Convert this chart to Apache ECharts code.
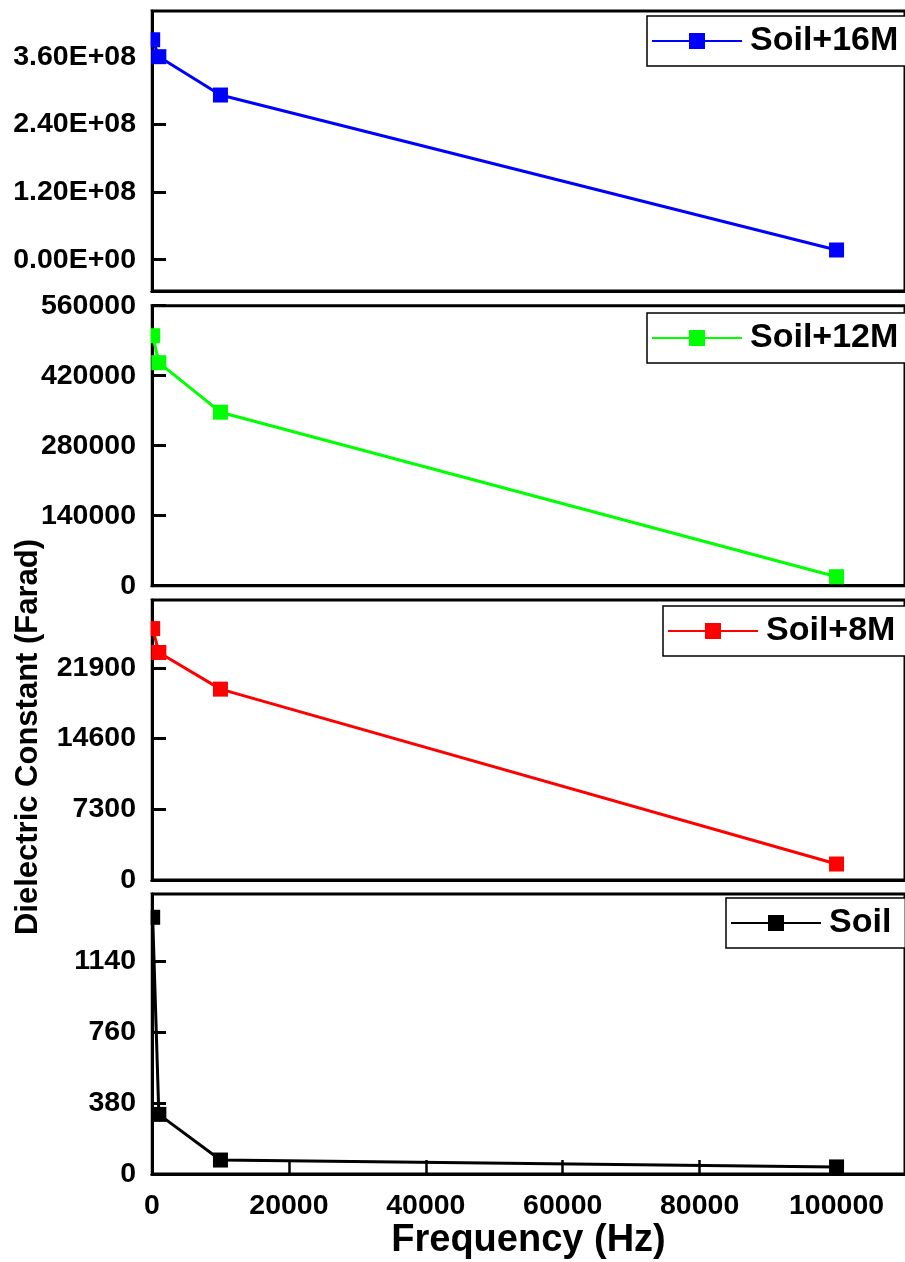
<!DOCTYPE html>
<html>
<head>
<meta charset="utf-8">
<script src="https://cdn.jsdelivr.net/npm/echarts@6/dist/echarts.min.js"></script>
<style>
  html, body { margin: 0; padding: 0; background: #fff; }
  #chart { width: 905px; height: 1262px; }
</style>
</head>
<body>
<div id="chart"></div>
<script>
// Measured frequencies (Hz) and dielectric constant for each soil mix
const frequencies = [100, 1000, 10000, 100000];
const seriesNames = ['Soil+16M', 'Soil+12M', 'Soil+8M', 'Soil'];
const soil16M = [3.90e8, 3.60e8, 2.92e8, 1.72e7];
const soil12M = [500000, 446000, 347000, 18000];
const soil8M = [25950, 23480, 19700, 1650];
const soilOnly = [1378, 320, 75, 38];

// Tick labels
const xTicks = [0, 20000, 40000, 60000, 80000, 100000];
const yTicks16M = [0, 1.2e8, 2.4e8, 3.6e8];
const yTicks12M = [0, 140000, 280000, 420000, 560000];
const yTicks8M = [0, 7300, 14600, 21900];
const yTicksSoil = [0, 380, 760, 1140];

const seriesValues = [soil16M, soil12M, soil8M, soilOnly];
const seriesColors = ['#0000ff', '#00ff00', '#ff0000', '#000000'];
const yTickSets = [yTicks16M, yTicks12M, yTicks8M, yTicksSoil];
const yRanges = [[-0.555e8, 4.41e8], [0, 560000], [0, 28900], [0, 1503]];

// Panel geometry
const FONT = 'Liberation Sans';
const gridLeft = 152;
const gridWidth = 762.3;
const gridHeight = 280;
const gridTops = [11, 305.7, 600, 894];
const legendPos = [[647, 16], [647, 313], [663, 606], [726, 898]];

function sci(v) {
  if (v === 0) return '0.00E+00';
  const e = Math.floor(Math.log10(Math.abs(v)) + 1e-9);
  const m = v / Math.pow(10, e);
  return m.toFixed(2) + 'E' + (e < 0 ? '-' : '+') + String(Math.abs(e)).padStart(2, '0');
}
const plain = (v) => String(v);

const grids = [], xAxes = [], yAxes = [], series = [], legends = [], graphics = [];

for (let i = 0; i < 4; i++) {
  const isBottom = i === 3;
  grids.push({
    left: gridLeft, top: gridTops[i], width: gridWidth, height: gridHeight,
    show: true, borderColor: '#000', borderWidth: 3, backgroundColor: 'transparent'
  });
  xAxes.push({
    gridIndex: i, type: 'value', min: 0, max: 110000,
    axisLine: { show: true, onZero: false, lineStyle: { color: '#000', width: 3 } },
    axisTick: {
      show: isBottom, inside: true, length: 14, customValues: xTicks,
      lineStyle: { color: '#000', width: 2.5 }
    },
    axisLabel: {
      show: isBottom, customValues: xTicks, color: '#000', fontSize: 28.5,
      fontWeight: 'bold', fontFamily: FONT, margin: 18, formatter: plain
    },
    splitLine: { show: false },
    name: isBottom ? 'Frequency (Hz)' : '',
    nameLocation: 'middle', nameGap: 46,
    nameTextStyle: { color: '#000', fontSize: 38, fontWeight: 'bold', fontFamily: FONT }
  });
  yAxes.push({
    gridIndex: i, type: 'value', min: yRanges[i][0], max: yRanges[i][1],
    axisLine: { show: true, onZero: false, lineStyle: { color: '#000', width: 3 } },
    axisTick: {
      show: true, inside: true, length: 14, customValues: yTickSets[i],
      lineStyle: { color: '#000', width: 3 }
    },
    axisLabel: {
      customValues: yTickSets[i], color: '#000', fontSize: 28.5, fontWeight: 'bold',
      fontFamily: FONT, margin: 16,
      formatter: i === 0 ? sci : plain
    },
    splitLine: { show: false }
  });
  series.push({
    name: seriesNames[i], type: 'line', xAxisIndex: i, yAxisIndex: i,
    data: frequencies.map((f, k) => [f, seriesValues[i][k]]),
    symbol: 'rect', symbolSize: 15, clip: true,
    lineStyle: { color: seriesColors[i], width: 3 },
    itemStyle: { color: seriesColors[i] }
  });
  legends.push({
    data: [seriesNames[i]], left: legendPos[i][0], top: legendPos[i][1],
    orient: 'horizontal', itemWidth: 90, itemHeight: 20,
    backgroundColor: '#fff', borderColor: '#000', borderWidth: 1.5,
    padding: [8, 14, 8, 4], selectedMode: false,
    textStyle: {
      color: '#000', fontSize: 34, fontWeight: 'bold', fontFamily: FONT,
      padding: [0, 0, 0, 3]
    }
  });
  // White strip left of the axis line: markers are clipped at the plot frame
  graphics.push({
    type: 'rect', z: 100,
    shape: { x: gridLeft - 9, y: gridTops[i], width: 7.5, height: gridHeight },
    style: { fill: '#fff' }
  });
}

graphics.push({
  type: 'text', x: 28, y: 737, rotation: Math.PI / 2, z: 100,
  style: {
    text: 'Dielectric Constant (Farad)', fill: '#000',
    font: 'bold 31px "' + FONT + '"', align: 'center', verticalAlign: 'middle'
  }
});

const chart = echarts.init(document.getElementById('chart'), null, { renderer: 'canvas' });
chart.setOption({
  backgroundColor: '#fff',
  animation: false,
  grid: grids,
  xAxis: xAxes,
  yAxis: yAxes,
  legend: legends,
  series: series,
  graphic: graphics
});
</script>
</body>
</html>
